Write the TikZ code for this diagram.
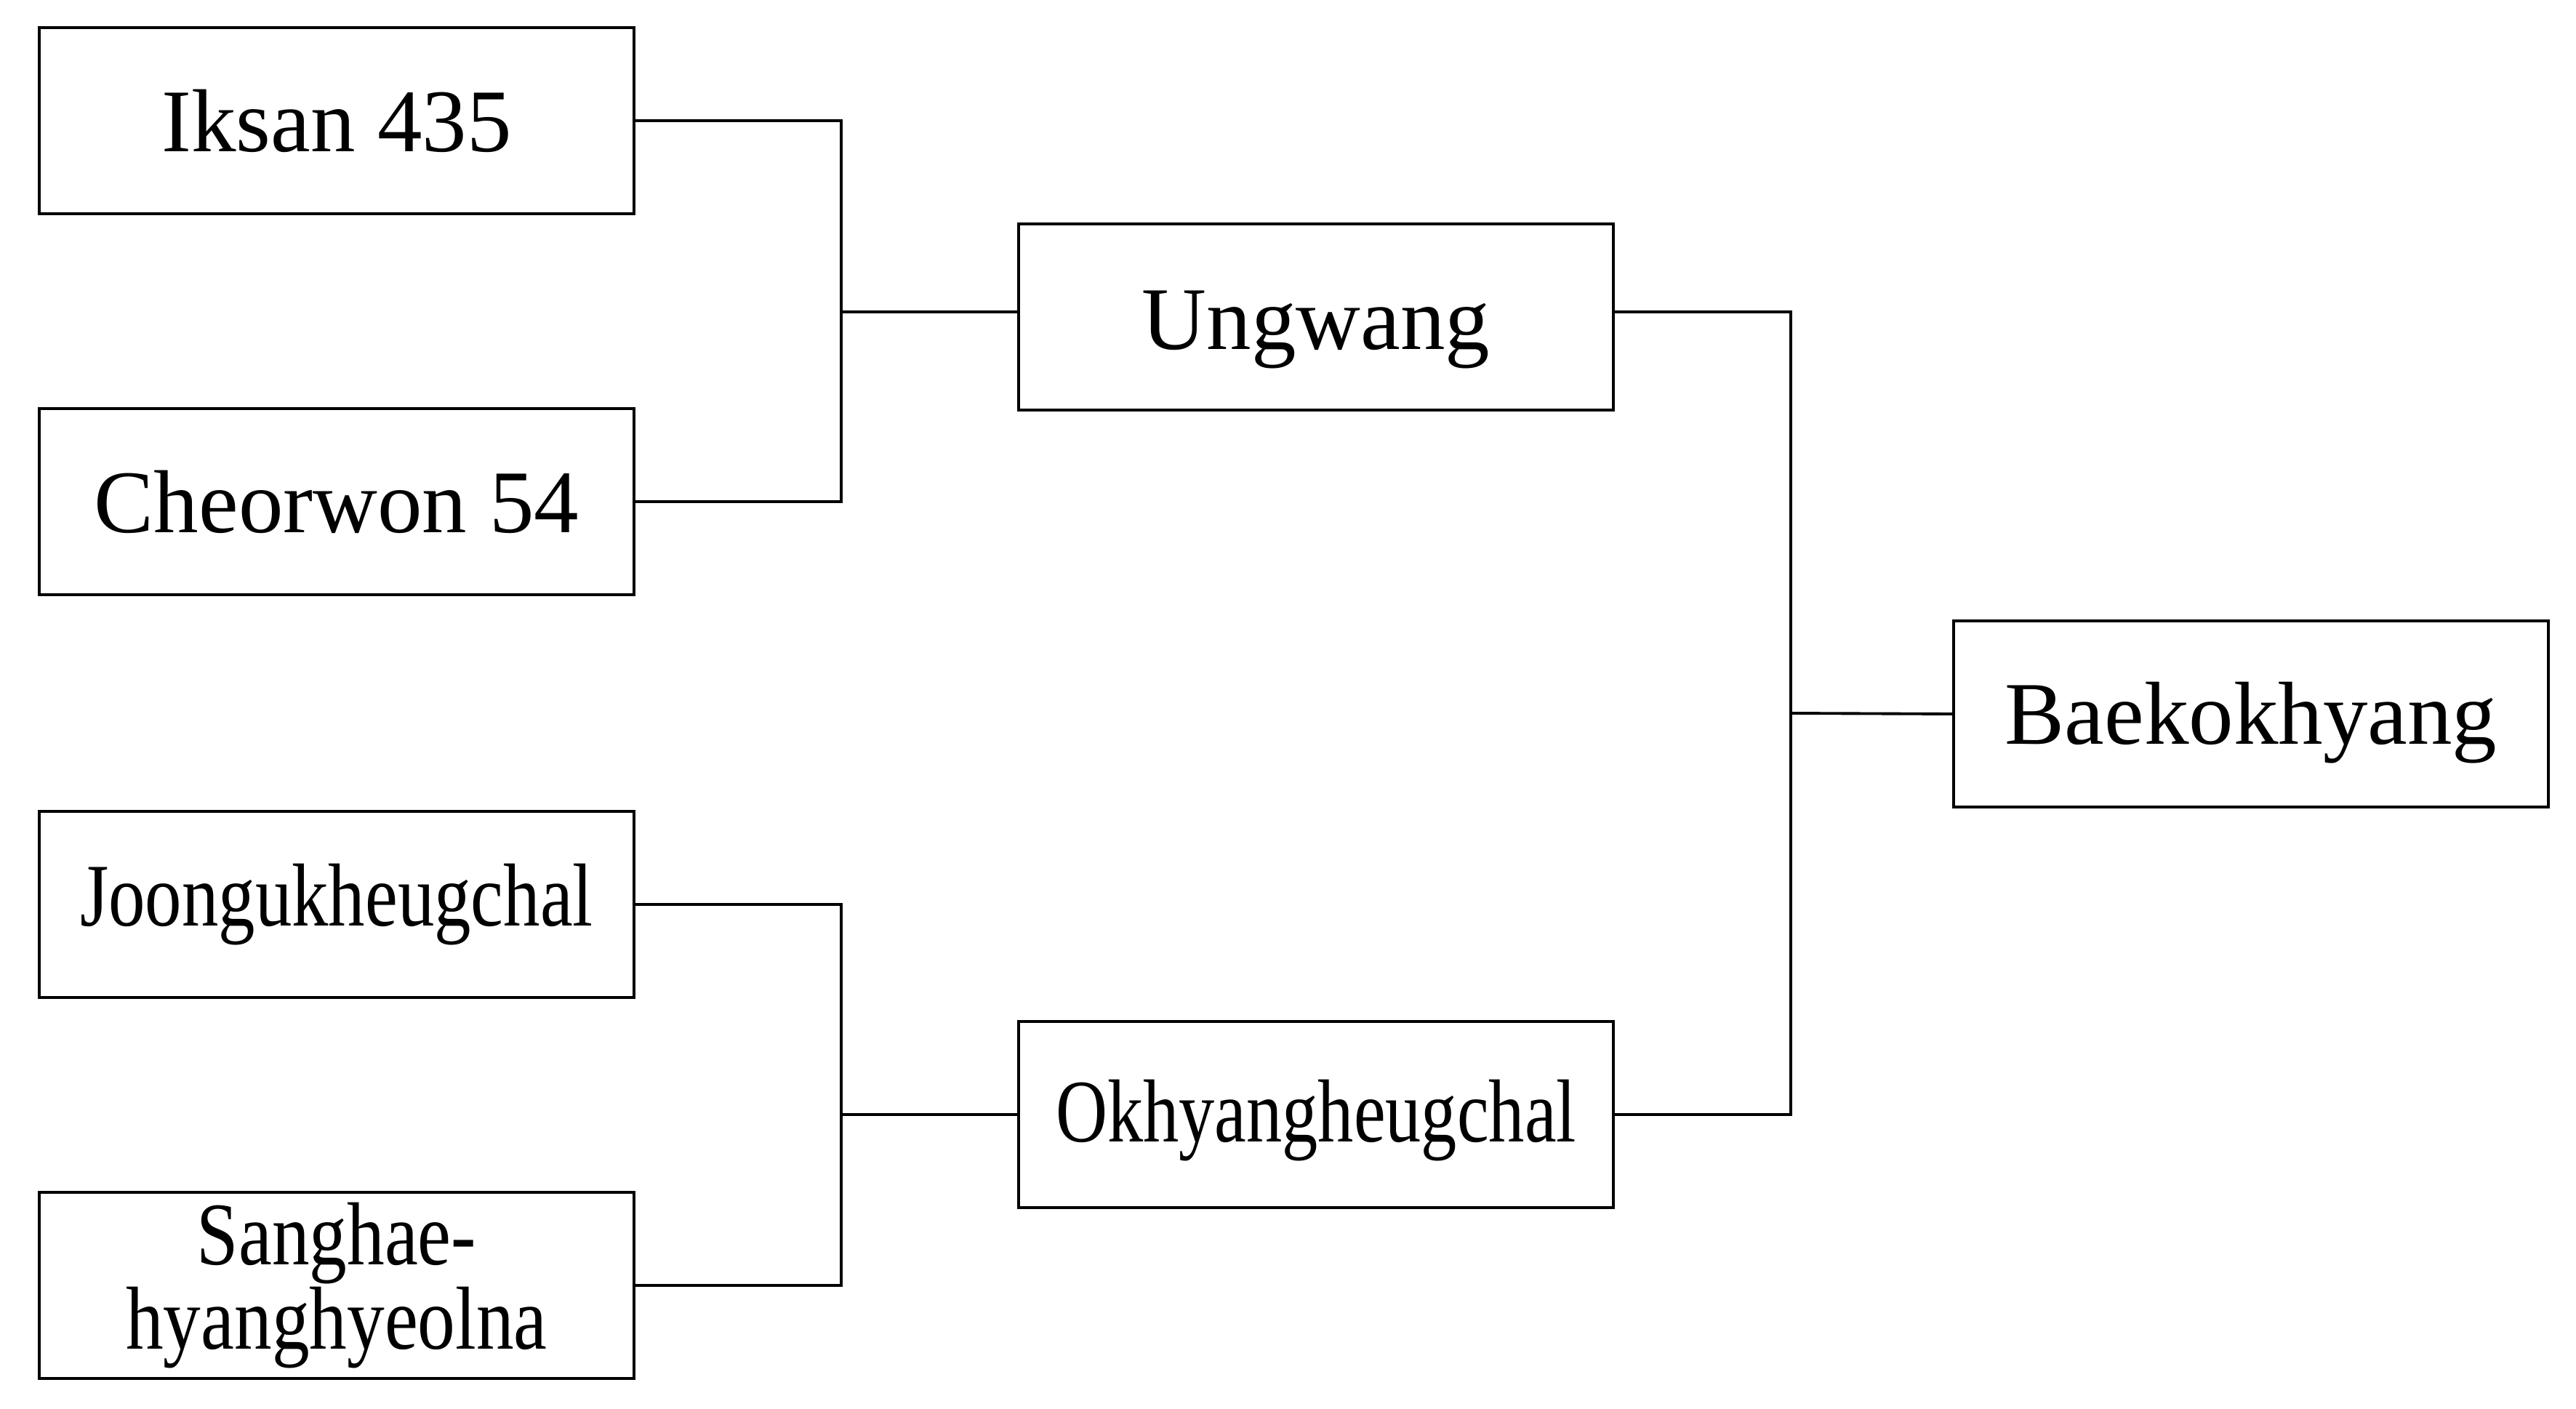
\documentclass[tikz,border=0pt]{standalone}
\usepackage{fontspec}
\setmainfont{Liberation Serif}
\usepackage{graphicx}
\newcommand{\lowertext}[2]{\raisebox{-#1}[\height][\depth]{#2}}
\begin{document}
\begin{tikzpicture}[
  box/.style={draw, line width=1.2pt, minimum width=8.18cm, minimum height=2.56cm, inner sep=0pt, align=center, font=\fontsize{35}{28}\selectfont},
  conn/.style={line width=1.1pt}
]
\useasboundingbox (0,0) rectangle (35.43,-19.38);
\node[box] (ik) at (4.63,-1.66) {Iksan 435};
\node[box] (ch) at (4.63,-6.90) {Cheorwon 54};
\node[box] (jo) at (4.63,-12.44) {\scalebox{0.82}[1]{Joongukheugchal}};
\node[box] (sa) at (4.63,-17.68) {\scalebox{0.84}[1]{Sanghae-}\\\scalebox{0.84}[1]{hyanghyeolna}};
\node[box] (un) at (18.10,-4.36) {\lowertext{0.18cm}{Ungwang}};
\node[box] (ok) at (18.10,-15.33) {\lowertext{0.08cm}{\scalebox{0.80}[1]{Okhyangheugchal}}};
\node[box] (ba) at (30.96,-9.82) {\lowertext{0.12cm}{Baekokhyang}};
\coordinate (j1) at (11.57,-4.29);
\coordinate (j2) at (11.57,-15.33);
\coordinate (j3) at (24.63,-9.81);
\draw[conn] (ik.east) -| (j1) |- (ch.east);
\draw[conn] (j1) -- (j1 -| un.west);
\draw[conn] (jo.east) -| (j2) |- (sa.east);
\draw[conn] (j2) -- (ok.west);
\draw[conn] (un.east |- j1) -| (j3) |- (ok.east);
\draw[conn] (j3) -- (ba.west);
\end{tikzpicture}
\end{document}
